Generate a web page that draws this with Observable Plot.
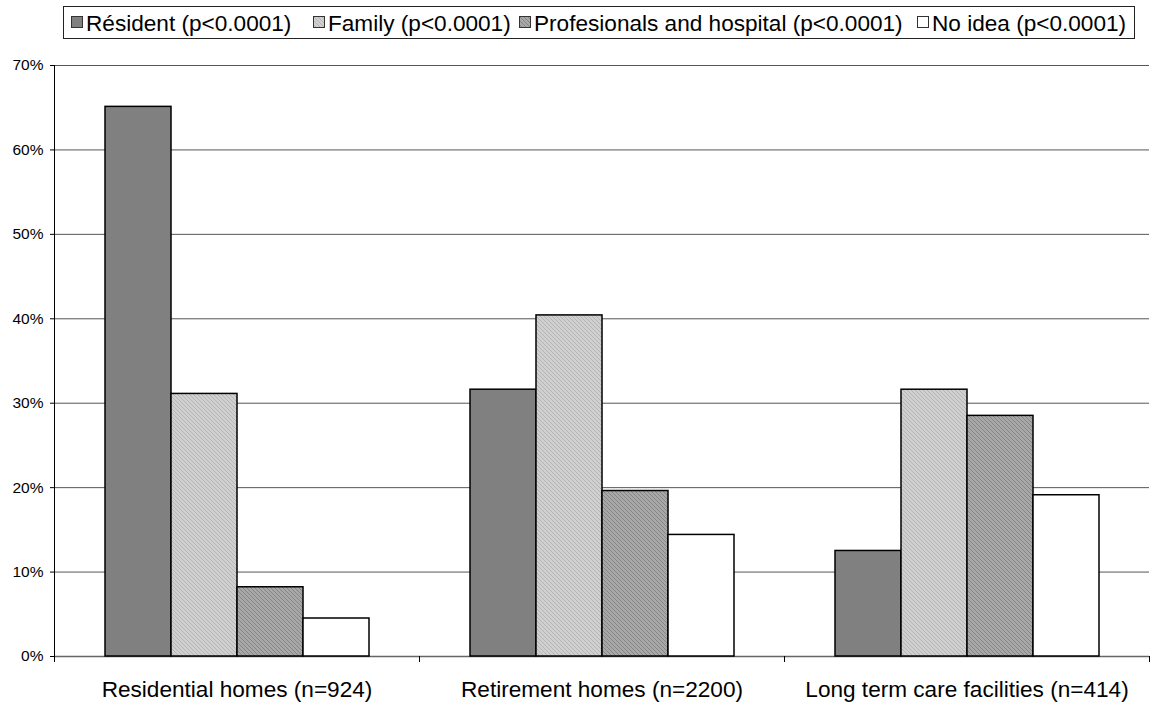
<!DOCTYPE html>
<html>
<head>
<meta charset="utf-8">
<script src="https://cdn.jsdelivr.net/npm/d3@7"></script>
<script src="https://cdn.jsdelivr.net/npm/@observablehq/plot@0.6"></script>
<style>
  body { margin: 0; background: #fff; font-family: "Liberation Sans", Arial, sans-serif; color: #000; }
  #legend { position: relative; height: 45px; }
  #legend .box { position: absolute; left: 63px; top: 6px; width: 1072px; height: 33px; border: 1px solid #222; box-sizing: border-box; }
  #legend .item { position: absolute; top: 5.6px; height: 22.6px; line-height: 22.6px; font-size: 22.6px; white-space: nowrap; }
  #legend .item svg { position: absolute; left: 0; top: 3px; }
  #legend .item span { position: absolute; left: 15px; top: 0; }
</style>
</head>
<body>
<!-- fill textures shared by the bars and the legend swatches -->
<svg width="0" height="0" style="position:absolute">
  <defs>
    <pattern id="tex-light" patternUnits="userSpaceOnUse" width="4" height="4">
      <rect width="4" height="4" fill="#d0d0d0"/>
      <path d="M-1,-1 L5,5 M-1,3 L1,5 M3,-1 L5,1" stroke="#b4b4b4" stroke-width="1"/>
    </pattern>
    <pattern id="tex-dark" patternUnits="userSpaceOnUse" width="4" height="4">
      <rect width="4" height="4" fill="#a8a8a8"/>
      <path d="M-1,-1 L5,5 M-1,3 L1,5 M3,-1 L5,1" stroke="#858585" stroke-width="1"/>
    </pattern>
  </defs>
</svg>
<div id="legend"><div class="box"></div></div>
<div id="chart"></div>
<script>
// Settings, grouped by place of care
const categories = ["Residential homes (n=924)", "Retirement homes (n=2200)", "Long term care facilities (n=414)"];
// Who made the decision (legend labels)
const series = ["Résident (p<0.0001)", "Family (p<0.0001)", "Profesionals and hospital (p<0.0001)", "No idea (p<0.0001)"];
// Percentages per setting, in category order
const resident = [65.1, 31.6, 12.5];
const family = [31.1, 40.4, 31.6];
const professionals = [8.2, 19.6, 28.5];
const noIdea = [4.5, 14.4, 19.1];
const yTicks = [0, 10, 20, 30, 40, 50, 60, 70];

const seriesValues = [resident, family, professionals, noIdea];
const seriesFills = ["#808080", "url(#tex-light)", "url(#tex-dark)", "#ffffff"];

const rows = categories.flatMap((category, i) =>
  series.map((s, j) => ({category, series: s, value: seriesValues[j][i]}))
);

// Legend above the chart
const legendBox = document.querySelector("#legend .box");
const legendLefts = [7, 249, 455, 853];
series.forEach((s, j) => {
  const item = document.createElement("div");
  item.className = "item";
  item.style.left = legendLefts[j] + "px";
  item.innerHTML = `<svg width="12" height="12"><rect x="0.5" y="0.5" width="11" height="11" fill="${seriesFills[j]}" stroke="#333"/></svg><span>${s}</span>`;
  legendBox.appendChild(item);
});

// Tick marks hanging below the baseline at each category boundary
function boundaryTicks(index, scales, values, dimensions) {
  const r = typeof scales.x.range === "function" ? scales.x.range()
    : [dimensions.marginLeft, dimensions.width - dimensions.marginRight];
  const y0 = scales.y(0);
  const g = d3.create("svg:g").attr("stroke", "#000").attr("transform", "translate(0.5,0)");
  for (const x of r) g.append("line").attr("x1", x).attr("x2", x).attr("y1", y0).attr("y2", y0 + 6);
  return g.node();
}

// Vertical axis line drawn only in the leftmost group
function axisLine(index, scales, values, dimensions) {
  if (!index.length) return null;
  const r = typeof scales.x.range === "function" ? scales.x.range()
    : [dimensions.marginLeft, dimensions.width - dimensions.marginRight];
  return d3.create("svg:line")
    .attr("stroke", "#000")
    .attr("transform", "translate(0.5,0)")
    .attr("x1", r[0]).attr("x2", r[0])
    .attr("y1", scales.y(70)).attr("y2", scales.y(0))
    .node();
}

const chart = Plot.plot({
  width: 1151,
  height: 659,
  marginTop: 20,
  marginBottom: 48,
  marginLeft: 54,
  marginRight: 2,
  style: {fontFamily: "'Liberation Sans', Arial, sans-serif", background: "#fff", color: "#000"},
  fx: {domain: categories, padding: 0, label: null},
  x: {domain: series, paddingInner: 0, paddingOuter: 0.74, axis: null},
  y: {domain: [0, 70], label: null},
  color: {type: "ordinal", domain: series, range: seriesFills},
  marks: [
    Plot.gridY(yTicks.filter(d => d > 0), {stroke: "#555", strokeOpacity: 1, strokeWidth: 1}),
    Plot.ruleY([0], {stroke: "#666", strokeWidth: 1.5}),
    Plot.barY(rows, {fx: "category", x: "series", y: "value", fill: "series", stroke: "#000", strokeWidth: 1.5, inset: 0}),
    Plot.ruleY([0], {render: boundaryTicks}),
    Plot.ruleY([categories[0]], {fx: d => d, y: () => 0, render: axisLine}),
    Plot.axisY(yTicks, {tickFormat: d => d + "%", tickSize: 4, tickPadding: 7, fontSize: 15.5, label: null, stroke: "#000"}),
    Plot.axisFx({anchor: "bottom", tickSize: 0, tickPadding: 24, fontSize: 22.6, label: null})
  ]
});
document.getElementById("chart").appendChild(chart);
</script>
</body>
</html>
